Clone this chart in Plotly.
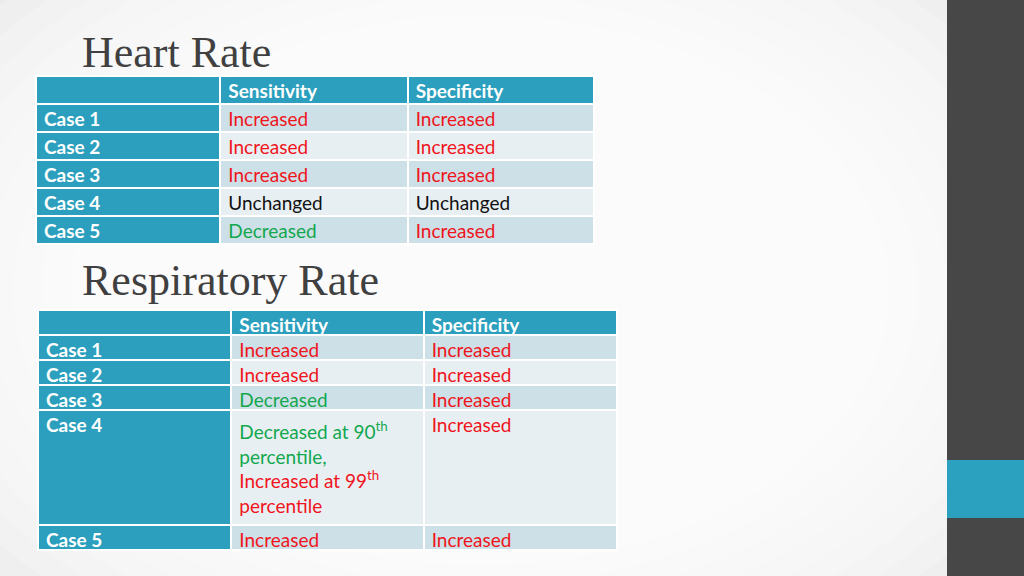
import plotly.graph_objects as go

W, H = 1024, 576

# ---- data ----
cases = ["Case 1", "Case 2", "Case 3", "Case 4", "Case 5"]
columns = ["", "Sensitivity", "Specificity"]

hr_sensitivity = ["Increased", "Increased", "Increased", "Unchanged", "Decreased"]
hr_specificity = ["Increased", "Increased", "Increased", "Unchanged", "Increased"]

rr_sensitivity = ["Increased", "Increased", "Decreased",
                  [("Decreased", "at 90", "th", "percentile,"), ("Increased", "at 99", "th", "percentile")],
                  "Increased"]
rr_specificity = ["Increased", "Increased", "Increased", "Increased", "Increased"]

titles = ["Heart Rate", "Respiratory Rate"]

# ---- styles ----
TEAL = "#2b9fbd"
DARK_ROW = "#cddfe7"
LIGHT_ROW = "#e8eff3"
RED = "#f0141c"
GREEN = "#12a84e"
BLACK = "#111111"
FONT = "Lato"
FS = 19
status_color = {"Increased": RED, "Decreased": GREEN, "Unchanged": BLACK}


def fmt(v):
    if isinstance(v, str):
        return v
    parts = []
    for word, mid, sup, tail in v:
        c = status_color[word]
        parts.append(f"<span style='color:{c}'>{word} {mid}<sup>{sup}</sup></span>"
                     f"<br><span style='color:{c}'>{tail}</span>")
    return "<br>".join(parts)


def colr(v):
    return status_color[v] if isinstance(v, str) else BLACK


def make_table(sens, spec, x0, x1, y0, colwidths, row_h):
    n = len(cases)
    body_fill = [DARK_ROW if i % 2 == 0 else LIGHT_ROW for i in range(n)]
    return go.Table(
        domain=dict(x=[x0 / W, x1 / W], y=[0, 1 - y0 / H]),
        columnwidth=colwidths,
        header=dict(
            values=columns,
            fill_color=TEAL,
            line=dict(color="white", width=2),
            align="left",
            height=row_h,
            font=dict(family=FONT, size=FS, color="white", weight="bold"),
        ),
        cells=dict(
            values=[cases, [fmt(v) for v in sens], [fmt(v) for v in spec]],
            fill_color=[[TEAL] * n, body_fill, body_fill],
            line=dict(color="white", width=2),
            align="left",
            height=row_h,
            font=dict(family=FONT, size=FS,
                      weight=["bold", "normal", "normal"],
                      color=[["white"] * n, [colr(v) for v in sens], [colr(v) for v in spec]]),
        ),
    )


fig = go.Figure()
fig.add_trace(make_table(hr_sensitivity, hr_specificity, 36, 594, 76, [184, 187, 186], 28))
fig.add_trace(make_table(rr_sensitivity, rr_specificity, 38, 617, 310, [193, 192, 193], 25))

# titles
for t, yc in zip(titles, [53, 280]):
    fig.add_annotation(text=t, x=80 / W, y=1 - yc / H, xref="paper", yref="paper",
                       xanchor="left", yanchor="middle", showarrow=False,
                       font=dict(family="Liberation Serif", size=44, color="#404040"))

# soft radial background (vignette)
cx, cy, ax, by = 480, 290, 640, 430
for k in range(14):
    s = 1.0 - 0.045 * k
    fig.add_shape(type="circle", xref="paper", yref="paper",
                  x0=(cx - ax * s) / W, x1=(cx + ax * s) / W,
                  y0=1 - (cy + by * s) / H, y1=1 - (cy - by * s) / H,
                  fillcolor="white", opacity=0.2, line=dict(width=0), layer="below")

# sidebar
fig.add_shape(type="rect", xref="paper", yref="paper", x0=947 / W, x1=1, y0=0, y1=1,
              fillcolor="#474747", line=dict(width=0), layer="below")
fig.add_shape(type="rect", xref="paper", yref="paper", x0=947 / W, x1=1,
              y0=1 - 518 / H, y1=1 - 460 / H,
              fillcolor="#2ba1bf", line=dict(width=0), layer="below")

fig.update_layout(width=W, height=H, margin=dict(l=0, r=0, t=0, b=0),
                  paper_bgcolor="#ebebeb", plot_bgcolor="#ebebeb", showlegend=False)

fig.write_html("out.html", config={"displayModeBar": False},
               post_script="document.body.style.margin='0';document.body.style.overflow='hidden';")
